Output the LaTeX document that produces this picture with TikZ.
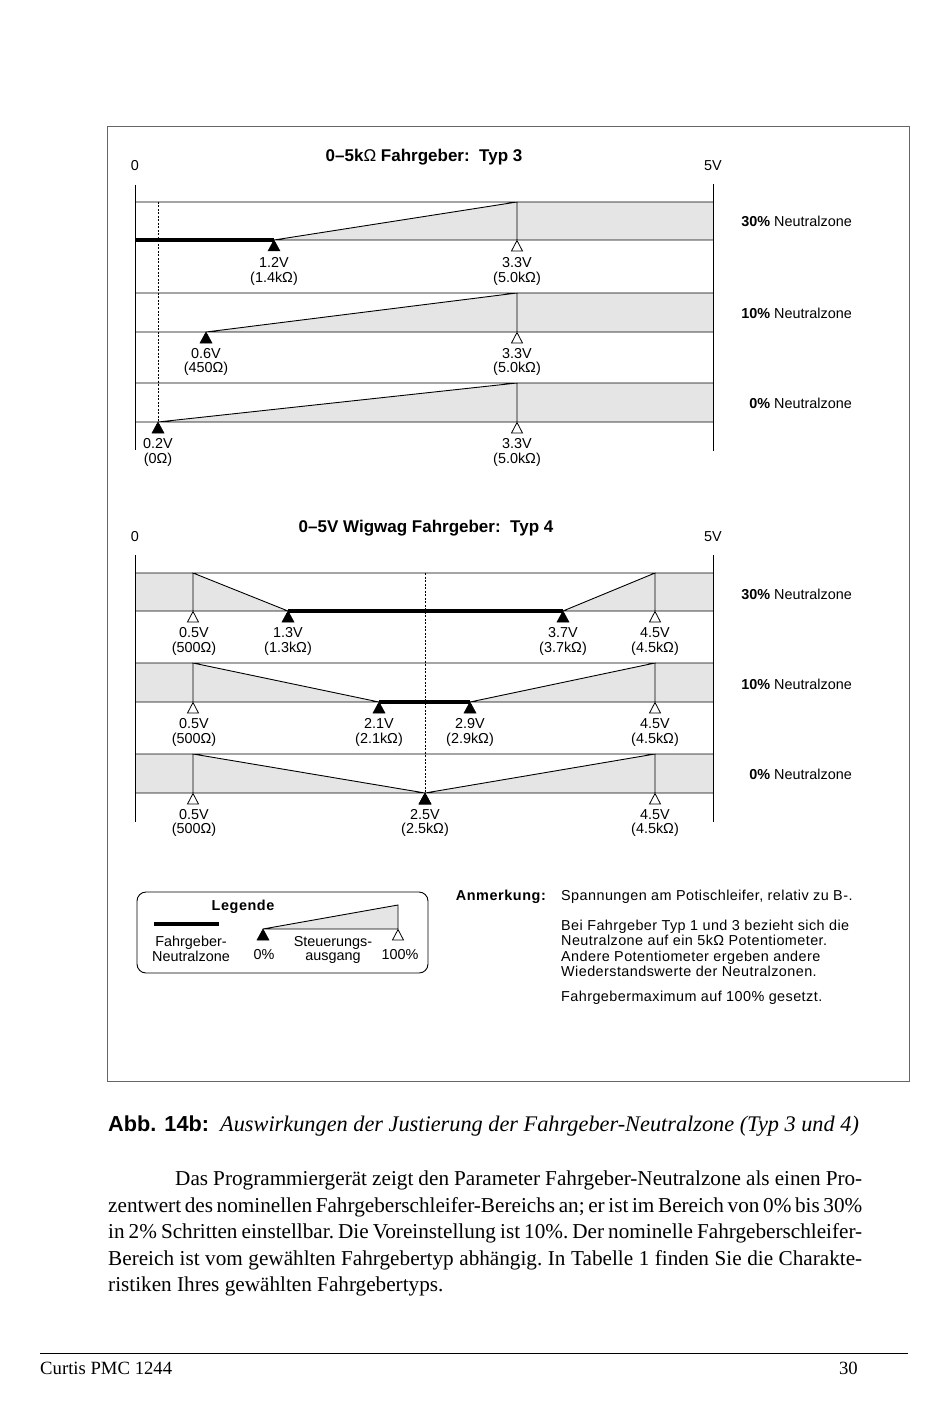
\documentclass[tikz,border=0pt]{standalone}
\usepackage{fontspec}
\setmainfont{Liberation Serif}
\setsansfont{Liberation Sans}
\newfontfamily\lsfont[LetterSpace=3]{Liberation Sans}
\newfontfamily\lsbfont[LetterSpace=4]{Liberation Sans Bold}
\newcommand\parafont{\fontsize{21.2}{24}\selectfont\frenchspacing}
\begin{document}
\begin{tikzpicture}[x=1pt,y=-1pt,
  thinl/.style={line width=0.9pt},
  neutral/.style={line width=4.5pt},
  zone/.style={fill=black!10},
  lab/.style={font=\sffamily\fontsize{14.4}{14.5}\selectfont, align=center, inner sep=0pt},
  side/.style={font=\sffamily\fontsize{14.4}{14.5}\selectfont, anchor=east, inner sep=0pt},
  note/.style={font=\lsfont\fontsize{14.4}{15.5}\selectfont, anchor=west, inner sep=0pt, align=left},
  boldlab/.style={font=\lsbfont\fontsize{14.4}{14.5}\selectfont, inner sep=0pt},
  ttl/.style={font=\sffamily\bfseries\fontsize{17}{18}\selectfont, inner sep=0pt},
  dashline/.style={line width=0.8pt, dash pattern=on 2pt off 1.5pt},
  ftri/.pic={\filldraw[line width=0.5pt] (0,0) -- (-6,11) -- (6,11) -- cycle;},
  otri/.pic={\filldraw[fill=white, line width=0.8pt] (0,0.5) -- (-5.5,11) -- (5.5,11) -- cycle;},
  para/.style={font=\parafont, anchor=base west, inner sep=0pt}
]
\useasboundingbox (0,0) rectangle (950,1420);
\fill[white] (0,0) rectangle (950,1420);
\draw[black!60, line width=1pt] (107,127) rectangle (909,1081);

% ---------- Typ 3 ----------
\node[ttl] (t3) at (424,157) {0--5k{\mdseries Ω} Fahrgeber:\ \ Typ 3};
\node[lab] (z3) at (135,166) {0};
\node[lab] (f3) at (713,166) {5V};
\foreach \t/\b/\s in {202/240/274, 293/332/206, 383/422/158}{
  \fill[zone] (\s,\b) -- (517,\t) -- (713,\t) -- (713,\b) -- cycle;
  \draw[thinl] (135,\t) -- (713,\t) (135,\b) -- (713,\b) (\s,\b) -- (517,\t) -- (517,\b);
}
\draw[thinl] (135,185) -- (135,450);
\draw[thinl] (713,184) -- (713,451);
\draw[dashline] (158,202) -- (158,422);
\draw[neutral] (135,240) -- (274,240);
\foreach \t/\b/\s in {202/240/274, 293/332/206, 383/422/158}{
  \pic at (\s,\b) {ftri};
  \pic at (517,\b) {otri};
}
\node[lab] (a1) at (274,271.5) {1.2V\\(1.4kΩ)};
\node[lab] (a2) at (517,271.5) {3.3V\\(5.0kΩ)};
\node[lab] (b1) at (206,362) {0.6V\\(450Ω)};
\node[lab] (b2) at (517,362) {3.3V\\(5.0kΩ)};
\node[lab] (c1) at (158,452.5) {0.2V\\(0Ω)};
\node[lab] (c2) at (517,452.5) {3.3V\\(5.0kΩ)};
\node[side] (n30a) at (852,221) {\textbf{30\%} Neutralzone};
\node[side] (n10a) at (852,313) {\textbf{10\%} Neutralzone};
\node[side] (n0a) at (852,403.5) {\textbf{0\%} Neutralzone};

% ---------- Typ 4 ----------
\node[ttl] (t4) at (426,528) {0--5V Wigwag Fahrgeber:\ \ Typ 4};
\node[lab] (z4) at (135,536.5) {0};
\node[lab] (f4) at (713,536.5) {5V};
\foreach \t/\b/\l/\r in {573/611/288/563, 663/702/379/470, 754/793/425/425}{
  \fill[zone] (135,\t) -- (193,\t) -- (\l,\b) -- (135,\b) -- cycle;
  \fill[zone] (\r,\b) -- (655,\t) -- (713,\t) -- (713,\b) -- cycle;
  \draw[thinl] (135,\t) -- (713,\t) (135,\b) -- (713,\b)
     (193,\b) -- (193,\t) -- (\l,\b) (\r,\b) -- (655,\t) -- (655,\b);
}
\draw[thinl] (135,555) -- (135,822);
\draw[thinl] (713,555) -- (713,822);
\draw[dashline] (425,573) -- (425,793);
\draw[neutral] (288,611) -- (563,611);
\draw[neutral] (379,702) -- (470,702);
\foreach \b/\l/\r in {611/288/563, 702/379/470, 793/425/425}{
  \pic at (193,\b) {otri};
  \pic at (655,\b) {otri};
  \pic at (\l,\b) {ftri};
  \pic at (\r,\b) {ftri};
}
\node[lab] (d1) at (194,641.5) {0.5V\\(500Ω)};
\node[lab] (d2) at (288,641.5) {1.3V\\(1.3kΩ)};
\node[lab] (d3) at (563,641.5) {3.7V\\(3.7kΩ)};
\node[lab] (d4) at (655,641.5) {4.5V\\(4.5kΩ)};
\node[lab] (e1) at (194,732.5) {0.5V\\(500Ω)};
\node[lab] (e2) at (379,732.5) {2.1V\\(2.1kΩ)};
\node[lab] (e3) at (470,732.5) {2.9V\\(2.9kΩ)};
\node[lab] (e4) at (655,732.5) {4.5V\\(4.5kΩ)};
\node[lab] (g1) at (194,823) {0.5V\\(500Ω)};
\node[lab] (g2) at (425,823) {2.5V\\(2.5kΩ)};
\node[lab] (g4) at (655,823) {4.5V\\(4.5kΩ)};
\node[side] (n30b) at (852,594) {\textbf{30\%} Neutralzone};
\node[side] (n10b) at (852,684) {\textbf{10\%} Neutralzone};
\node[side] (n0b) at (852,774) {\textbf{0\%} Neutralzone};

% ---------- Legende ----------
\draw[thinl, rounded corners=9pt] (137,892) rectangle (428,973);
\node[boldlab] (leg) at (243,907) {Legende};
\draw[neutral] (154,924) -- (219,924);
\fill[zone] (263,929) -- (398,905) -- (398,929) -- cycle;
\draw[thinl] (263,929) -- (398,905) -- (398,929) -- cycle;
\pic at (263,929) {ftri};
\pic at (398,929) {otri};
\node[lab] (lfn) at (191,949) {Fahrgeber-\\Neutralzone};
\node[lab] (l0) at (264,955) {0\%};
\node[lab] (lsa) at (333,950) {Steuerungs-\\ausgang};
\node[lab] (l100) at (400,955) {100\%};

% ---------- Anmerkung ----------
\node[boldlab, anchor=east] (anm) at (546,897) {Anmerkung:};
\node[note] (m1) at (561,897) {Spannungen am Potischleifer, relativ zu B-.};
\node[note] (m2) at (561,948.5) {Bei Fahrgeber Typ 1 und 3 bezieht sich die\\Neutralzone auf ein 5kΩ Potentiometer.\\Andere Potentiometer ergeben andere\\Wiederstandswerte der Neutralzonen.};
\node[note] (m3) at (561,998) {Fahrgebermaximum auf 100\% gesetzt.};

% ---------- Caption ----------
\node[anchor=base west, inner sep=0pt, font=\sffamily\bfseries\fontsize{21.7}{22}\selectfont] (cap1) at (108,1131) {Abb. 14b:};
\node[anchor=base west, inner sep=0pt, font=\itshape\fontsize{22.3}{24}\selectfont] (cap2) at (220,1131) {Auswirkungen der Justierung der Fahrgeber-Neutralzone (Typ 3 und 4)};

% ---------- Paragraph ----------
\node[para] (p1) at (175,1185) {\makebox[687pt][s]{Das Programmiergerät zeigt den Parameter Fahrgeber-Neutralzone als einen Pro-}};
\node[para] (p2) at (108,1212) {\makebox[754pt][s]{zentwert des nominellen Fahrgeberschleifer-Bereichs an; er ist im Bereich von 0\% bis 30\%}};
\node[para] (p3) at (108,1238.5) {\makebox[754pt][s]{in 2\% Schritten einstellbar. Die Voreinstellung ist 10\%. Der nominelle Fahrgeberschleifer-}};
\node[para] (p4) at (108,1265) {\makebox[754pt][s]{Bereich ist vom gewählten Fahrgebertyp abhängig. In Tabelle 1 finden Sie die Charakte-}};
\node[para] (p5) at (108,1291.5) {ristiken Ihres gewählten Fahrgebertyps.};

% ---------- Footer ----------
\draw[line width=0.8pt] (40,1353) -- (908,1353);
\node[anchor=west, inner sep=0pt, font=\fontsize{18.7}{20}\selectfont] (ft1) at (40,1368) {Curtis PMC 1244};
\node[anchor=east, inner sep=0pt, font=\fontsize{18.7}{20}\selectfont] (ft2) at (858,1368) {30};
\end{tikzpicture}
\end{document}
